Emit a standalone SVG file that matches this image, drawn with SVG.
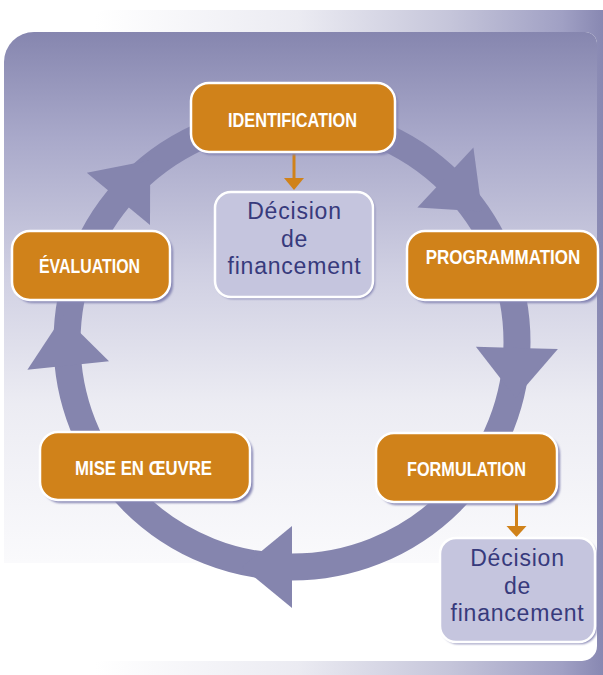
<svg xmlns="http://www.w3.org/2000/svg" width="603" height="675" viewBox="0 0 603 675">
<defs>
<linearGradient id="backGrad" gradientUnits="userSpaceOnUse" x1="95" y1="0" x2="603" y2="0">
<stop offset="0" stop-color="#ffffff"/>
<stop offset="0.4" stop-color="#ebebf2"/>
<stop offset="0.7" stop-color="#c5c5da"/>
<stop offset="0.92" stop-color="#a0a0c4"/>
<stop offset="1" stop-color="#8888b2"/>
</linearGradient>
<linearGradient id="panelGrad" gradientUnits="userSpaceOnUse" x1="0" y1="32" x2="0" y2="563">
<stop offset="0" stop-color="#8686af"/>
<stop offset="0.2" stop-color="#a9a9ca"/>
<stop offset="0.45" stop-color="#cfcfe2"/>
<stop offset="0.7" stop-color="#ececf3"/>
<stop offset="1" stop-color="#fafafc"/>
</linearGradient>
<filter id="blur" x="-10%" y="-10%" width="120%" height="120%">
<feGaussianBlur stdDeviation="1.2"/>
</filter>
<style>
.ring{fill:none;stroke:#8585ae;stroke-width:27}
.head{fill:#8585ae}
.shadow{fill:#8585b3;filter:url(#blur)}
.obox{fill:#D0821A;stroke:#ffffff;stroke-width:2.5}
.dbox{fill:#c5c5de;stroke:#ffffff;stroke-width:2.5}
.olabel{font-family:"Liberation Sans Narrow","Liberation Sans",Arial,sans-serif;font-weight:bold;font-size:21px;fill:#ffffff;text-anchor:middle}
.dlabel{font-family:"Liberation Sans",Arial,sans-serif;font-size:23px;letter-spacing:0.8px;fill:#373a7c;text-anchor:middle}
.oline{stroke:#D0821A;stroke-width:3;fill:none}
.ohead{fill:#D0821A}
</style>
</defs>

<g id="background">
<rect x="85" y="10" width="540" height="700" rx="22" fill="url(#backGrad)"/>
<path d="M34,32 H585 A12,12 0 0 1 597,44 V646 A15,15 0 0 1 582,661 H19 A15,15 0 0 1 4,646 V62 A30,30 0 0 1 34,32 Z" fill="#ffffff"/>
<path d="M34,32 H585 A12,12 0 0 1 597,44 V563 H4 V62 A30,30 0 0 1 34,32 Z" fill="url(#panelGrad)"/>
</g>

<g id="connectors">
<circle class="ring" cx="292" cy="342" r="225"/>
<polygon class="head" points="86.8,172.8 150.0,225.0 150.2,160.3"/>
<polygon class="head" points="473.4,147.4 417.4,207.4 482.0,211.5"/>
<polygon class="head" points="557.9,349.0 475.9,346.8 515.6,397.9"/>
<polygon class="head" points="292,526 292,608 242,567"/>
<polygon class="head" points="27.4,369.8 109.0,361.2 63.0,315.8"/>
<line class="oline" x1="294" y1="153" x2="294" y2="180"/>
<polygon class="ohead" points="284,178 304,178 294,190"/>
<line class="oline" x1="516.5" y1="503" x2="516.5" y2="528"/>
<polygon class="ohead" points="506.5,526 526.5,526 516.5,537"/>
</g>

<g id="identification">
<rect class="shadow" x="194" y="86" width="204" height="69" rx="18"/>
<rect class="obox" x="191" y="83" width="204" height="69" rx="18"/>
<text class="olabel" x="292.5" y="127" textLength="129" lengthAdjust="spacingAndGlyphs">IDENTIFICATION</text>
</g>

<g id="decision1">
<rect class="shadow" x="217" y="194" width="158" height="105" rx="16"/>
<rect class="dbox" x="215" y="192" width="158" height="105" rx="16"/>
<text class="dlabel" x="294.5" y="219">Décision</text>
<text class="dlabel" x="294.5" y="246.5">de</text>
<text class="dlabel" x="294.5" y="274">financement</text>
</g>

<g id="evaluation">
<rect class="shadow" x="15" y="234" width="158" height="69" rx="18"/>
<rect class="obox" x="12" y="231" width="158" height="69" rx="18"/>
<text class="olabel" x="89.5" y="273" textLength="101" lengthAdjust="spacingAndGlyphs">ÉVALUATION</text>
</g>

<g id="programmation">
<rect class="shadow" x="410" y="234" width="191" height="69" rx="18"/>
<rect class="obox" x="407" y="231" width="191" height="69" rx="18"/>
<text class="olabel" transform="translate(503,264) scale(0.81,1)" x="0" y="0">PROGRAMMATION</text>
</g>

<g id="formulation">
<rect class="shadow" x="379" y="436" width="181" height="69" rx="18"/>
<rect class="obox" x="376" y="433" width="181" height="69" rx="18"/>
<text class="olabel" x="466.5" y="476" textLength="119" lengthAdjust="spacingAndGlyphs">FORMULATION</text>
</g>

<g id="decision2">
<rect class="shadow" x="442" y="540" width="155" height="104" rx="16"/>
<rect class="dbox" x="440" y="538" width="155" height="104" rx="16"/>
<text class="dlabel" x="517.5" y="566">Décision</text>
<text class="dlabel" x="517.5" y="593.5">de</text>
<text class="dlabel" x="517.5" y="621">financement</text>
</g>

<g id="mise-en-oeuvre">
<rect class="shadow" x="43" y="435" width="210" height="68" rx="18"/>
<rect class="obox" x="40" y="432" width="210" height="68" rx="18"/>
<text class="olabel" x="143.5" y="475" textLength="137" lengthAdjust="spacingAndGlyphs">MISE EN ŒUVRE</text>
</g>
</svg>
